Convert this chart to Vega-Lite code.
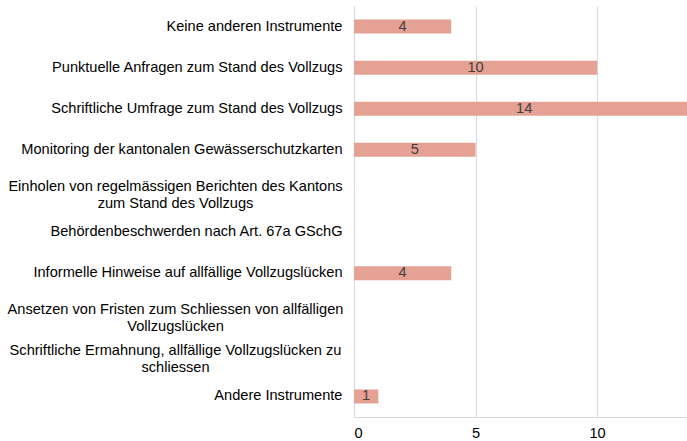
{
  "$schema": "https://vega.github.io/schema/vega-lite/v6.json",
  "width": 333,
  "height": 411,
  "autosize": {"type": "none"},
  "padding": {"left": 354, "top": 6, "right": 0, "bottom": 24},
  "background": "white",
  "config": {"view": {"stroke": null}, "font": "Liberation Sans"},
  "data": {
    "values": [
      {"category": "Keine anderen Instrumente", "value": 4},
      {"category": "Punktuelle Anfragen zum Stand des Vollzugs", "value": 10},
      {"category": "Schriftliche Umfrage zum Stand des Vollzugs", "value": 14},
      {"category": "Monitoring der kantonalen Gewässerschutzkarten", "value": 5},
      {"category": "Einholen von regelmässigen Berichten des Kantons\nzum Stand des Vollzugs", "value": 0},
      {"category": "Behördenbeschwerden nach Art. 67a GSchG", "value": 0},
      {"category": "Informelle Hinweise auf allfällige Vollzugslücken", "value": 4},
      {"category": "Ansetzen von Fristen zum Schliessen von allfälligen\nVollzugslücken", "value": 0},
      {"category": "Schriftliche Ermahnung, allfällige Vollzugslücken zu\nschliessen", "value": 0},
      {"category": "Andere Instrumente", "value": 1}
    ]
  },
  "encoding": {
    "y": {
      "field": "category",
      "type": "nominal",
      "sort": null,
      "title": null,
      "scale": {"paddingInner": 0.66, "paddingOuter": 0.33},
      "axis": {
        "labelExpr": "split(datum.label, '\\n')",
        "labelLimit": 500,
        "labelFontSize": 14.6,
        "labelColor": "#000000",
        "labelLineHeight": 17,
        "labelAlign": {"condition": {"test": "indexof(datum.label, '\\n') >= 0", "value": "center"}, "value": "right"},
        "labelPadding": {"condition": {"test": "indexof(datum.label, '\\n') >= 0", "value": 179}, "value": 12},
        "labelOffset": {"condition": {"test": "indexof(datum.label, '\\n') >= 0", "value": -4}, "value": 0},
        "ticks": false,
        "domainColor": "#d9d9d9",
        "grid": false
      }
    }
  },
  "layer": [
    {
      "mark": {"type": "bar", "color": "#E5A193", "size": 14, "clip": true},
      "encoding": {
        "x": {
          "field": "value",
          "type": "quantitative",
          "title": null,
          "scale": {"domain": [0, 13.7], "nice": false},
          "axis": {
            "values": [0, 5, 10],
            "ticks": false,
            "labelFontSize": 14.6,
            "labelColor": "#000000",
            "labelPadding": 8,
            "domainColor": "#d9d9d9",
            "gridColor": "#d9d9d9",
            "grid": true
          }
        }
      }
    },
    {
      "transform": [
        {"filter": "datum.value > 0"},
        {"calculate": "datum.value / 2", "as": "mid"}
      ],
      "mark": {"type": "text", "fontSize": 14.6, "color": "#404040", "baseline": "middle", "align": "center"},
      "encoding": {
        "x": {"field": "mid", "type": "quantitative"},
        "text": {"field": "value", "type": "quantitative"}
      }
    }
  ]
}
